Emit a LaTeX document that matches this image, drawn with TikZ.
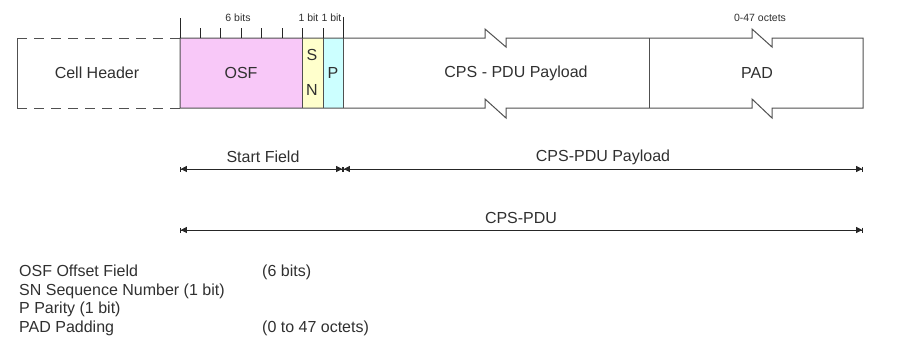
\documentclass[tikz,border=0pt]{standalone}
\usepackage{fontspec}
\setmainfont{Liberation Sans}
\usetikzlibrary{arrows.meta}
\definecolor{osfc}{HTML}{F8C8F8}
\definecolor{snc}{HTML}{FFFFCC}
\definecolor{pc}{HTML}{CCFFFF}
\definecolor{linec}{HTML}{505050}
\definecolor{txtc}{HTML}{303030}
\begin{document}
\begin{tikzpicture}[x=1pt,y=-1pt,
  box/.style={draw=linec,line width=1pt},
  tick/.style={draw=black!85,line width=0.9pt},
  lbl/.style={font=\fontsize{16}{18}\selectfont,text=txtc,inner sep=0pt},
  small/.style={font=\fontsize{10.5}{12}\selectfont,text=txtc,inner sep=0pt},
  legend/.style={font=\fontsize{16}{18}\selectfont,text=txtc,inner sep=0pt,anchor=base west},
  dim/.style={draw=black!85,line width=0.8pt,
    {Bar[width=5pt,line width=0.8pt]Triangle[length=6pt,width=6pt]}-{Triangle[length=6pt,width=6pt]Bar[width=5pt,line width=0.8pt]}}]
\useasboundingbox (0,0) rectangle (901,348);
% fills
\fill[osfc] (180,38) rectangle (302,108);
\fill[snc] (302,38) rectangle (323,108);
\fill[pc] (323,38) rectangle (343,108);
% cell header
\draw[box] (17,38) -- (17,108);
\draw[box,dash pattern=on 10pt off 7pt] (17,38) -- (180,38);
\draw[box,dash pattern=on 10pt off 7pt] (17,108) -- (180,108);
% outline with breaks
\draw[box] (180,38) -- (485,38) -- (485,29) -- (506,47) -- (506,38) -- (752,38) -- (752,29) -- (772,47) -- (772,38)
  -- (863,38) -- (863,108) -- (772,108) -- (772,118) -- (752,99) -- (752,108) -- (506,108) -- (506,118) -- (485,99)
  -- (485,108) -- (180,108) -- cycle;
\foreach \x in {302,323,343,649} \draw[box] (\x,38) -- (\x,108);
% ticks
\draw[tick] (180,18) -- (180,38);
\draw[tick] (343,17) -- (343,38);
\foreach \x in {200,220,241,261,282,302,323} \draw[tick] (\x,28) -- (\x,38);
\node[small] (sixbits) at (238,18) {6 bits};
\node[small] (bitsn) at (308.5,18) {1 bit};
\node[small] (bitp) at (331.5,18) {1 bit};
\node[small] (octets) at (760,18) {0-47 octets};
% labels
\node[lbl] (ch) at (97,73) {Cell Header};
\node[lbl] (osf) at (241,73) {OSF};
\node[lbl] (s) at (312,55) {S};
\node[lbl] (n) at (312,90) {N};
\node[lbl] (p) at (333,73) {P};
\node[lbl] (pay) at (516,73) {CPS - PDU Payload};
\node[lbl] (pad) at (757,73) {PAD};
% dimension lines
\coordinate (a1) at (180,169);
\coordinate (a2) at (343,169);
\coordinate (a3) at (863,169);
\coordinate (b1) at (180,230);
\coordinate (b2) at (863,230);
\draw[dim] (a1) -- (a2);
\draw[dim] (a2) -- (a3);
\draw[dim] (b1) -- (b2);
\node[lbl] (sf) at (263,157) {Start Field};
\node[lbl] (cpl) at (603,157) {CPS-PDU Payload};
\node[lbl] (cps) at (521,218) {CPS-PDU};
% legend
\node[legend] (l1) at (19,276.5) {OSF Offset Field};
\node[legend] (l1b) at (262,276.5) {(6 bits)};
\node[legend] (l2) at (19,295) {SN Sequence Number (1 bit)};
\node[legend] (l3) at (19,313.5) {P Parity (1 bit)};
\node[legend] (l4) at (19,332) {PAD Padding};
\node[legend] (l4b) at (262,332) {(0 to 47 octets)};
\end{tikzpicture}
\end{document}
